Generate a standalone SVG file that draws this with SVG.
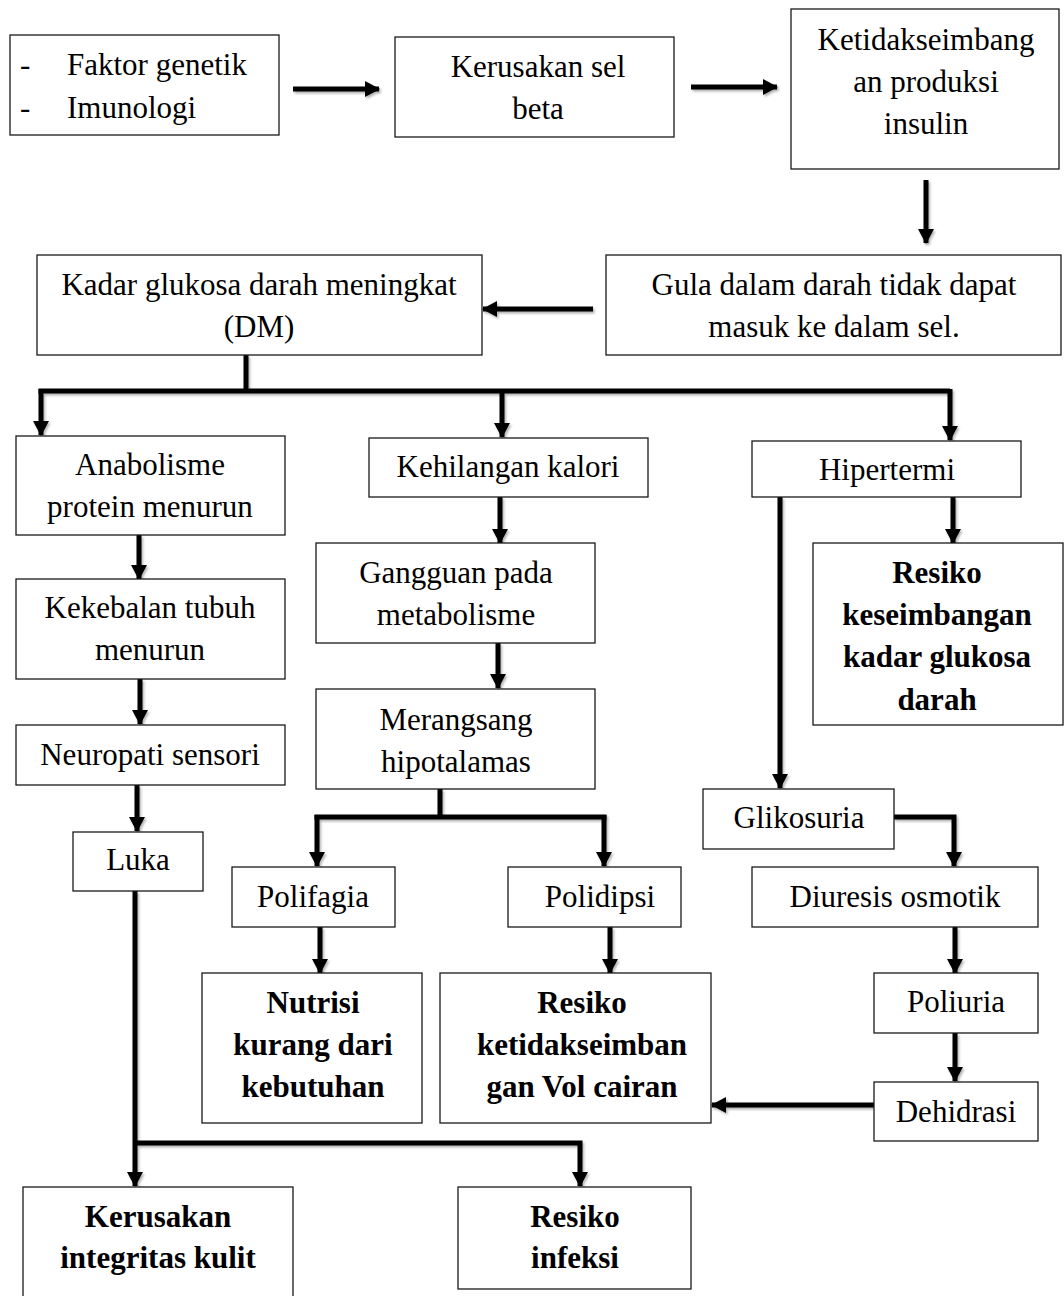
<svg xmlns="http://www.w3.org/2000/svg" width="1064" height="1296" viewBox="0 0 1064 1296">
<style>
.box{fill:#fff;stroke:#1a1a1a;stroke-width:1.3}
.t{font-family:"Liberation Serif","Times New Roman",serif;font-size:31px;fill:#000;text-anchor:middle}
.b{font-weight:bold}
.l{text-anchor:start}
.c{fill:none;stroke:#000;stroke-width:5}
.a{marker-end:url(#ah)}
</style>
<defs>
<marker id="ah" markerUnits="userSpaceOnUse" viewBox="0 0 15 16" refX="14" refY="8" markerWidth="15" markerHeight="16" orient="auto">
<path d="M0,0 L15,8 L0,16 Z" fill="#000"/>
</marker>
<filter id="sh" x="-10%" y="-10%" width="120%" height="120%">
<feDropShadow dx="1.5" dy="2" stdDeviation="1.2" flood-color="#000" flood-opacity="0.3"/>
</filter>
</defs>
<rect width="1064" height="1296" fill="#fff"/>

<g id="connectors" filter="url(#sh)">
<path class="c a" d="M293,89 H379"/>
<path class="c a" d="M691,87 H777"/>
<path class="c a" d="M926,180 V243"/>
<path class="c a" d="M593,309 H483"/>
<path class="c" d="M246,355 V391"/>
<path class="c" d="M38.5,391 H950"/>
<path class="c a" d="M41,389 V435"/>
<path class="c a" d="M502,391 V437"/>
<path class="c a" d="M950,389 V440"/>
<path class="c a" d="M139,535 V579"/>
<path class="c a" d="M140,679 V724"/>
<path class="c a" d="M137,785 V831"/>
<path class="c a" d="M500,497 V543"/>
<path class="c a" d="M498,643 V688"/>
<path class="c" d="M440,789 V817"/>
<path class="c" d="M314.5,817 H606.5"/>
<path class="c a" d="M317,815 V866"/>
<path class="c a" d="M604,815 V866"/>
<path class="c a" d="M320,927 V973"/>
<path class="c a" d="M610,927 V973"/>
<path class="c a" d="M953,497 V543"/>
<path class="c a" d="M780,497 V788"/>
<path class="c a" d="M894,817 H954 V866"/>
<path class="c a" d="M955,927 V973"/>
<path class="c a" d="M955,1033 V1081"/>
<path class="c a" d="M874,1105 H712"/>
<path class="c a" d="M135,891 V1186"/>
<path class="c a" d="M135,1143 H580 V1186"/>
</g>

<g id="n-faktor"><rect class="box" x="10" y="35" width="269" height="100"/>
<text class="t l" x="20" y="75">-</text><text class="t l" x="67" y="75">Faktor genetik</text>
<text class="t l" x="20" y="118">-</text><text class="t l" x="67" y="118">Imunologi</text></g>

<g id="n-kerusakan-sel"><rect class="box" x="395" y="37" width="279" height="100"/>
<text class="t" x="538" y="77">Kerusakan sel</text><text class="t" x="538" y="119">beta</text></g>

<g id="n-ketidakseimbangan"><rect class="box" x="791" y="9" width="268" height="160"/>
<text class="t" x="926" y="50">Ketidakseimbang</text><text class="t" x="926" y="92">an produksi</text><text class="t" x="926" y="134">insulin</text></g>

<g id="n-gula"><rect class="box" x="606" y="255" width="455" height="100"/>
<text class="t" x="834" y="295">Gula dalam darah tidak dapat</text><text class="t" x="834" y="337">masuk ke dalam sel.</text></g>

<g id="n-kadar"><rect class="box" x="37" y="255" width="445" height="100"/>
<text class="t" x="259" y="295">Kadar glukosa darah meningkat</text><text class="t" x="259" y="337">(DM)</text></g>

<g id="n-anabolisme"><rect class="box" x="16" y="436" width="269" height="99"/>
<text class="t" x="150" y="475">Anabolisme</text><text class="t" x="150" y="517">protein menurun</text></g>

<g id="n-kekebalan"><rect class="box" x="16" y="579" width="269" height="100"/>
<text class="t" x="150" y="618">Kekebalan tubuh</text><text class="t" x="150" y="660">menurun</text></g>

<g id="n-neuropati"><rect class="box" x="16" y="725" width="269" height="60"/>
<text class="t" x="150" y="765">Neuropati sensori</text></g>

<g id="n-luka"><rect class="box" x="73" y="832" width="130" height="59"/>
<text class="t" x="138" y="870">Luka</text></g>

<g id="n-kehilangan"><rect class="box" x="369" y="438" width="279" height="59"/>
<text class="t" x="508" y="477">Kehilangan kalori</text></g>

<g id="n-gangguan"><rect class="box" x="316" y="543" width="279" height="100"/>
<text class="t" x="456" y="583">Gangguan pada</text><text class="t" x="456" y="625">metabolisme</text></g>

<g id="n-merangsang"><rect class="box" x="316" y="689" width="279" height="100"/>
<text class="t" x="456" y="730">Merangsang</text><text class="t" x="456" y="772">hipotalamas</text></g>

<g id="n-polifagia"><rect class="box" x="232" y="867" width="163" height="60"/>
<text class="t" x="313" y="907">Polifagia</text></g>

<g id="n-polidipsi"><rect class="box" x="508" y="867" width="173" height="60"/>
<text class="t" x="600" y="907">Polidipsi</text></g>

<g id="n-nutrisi"><rect class="box" x="202" y="973" width="220" height="150"/>
<text class="t b" x="313" y="1013">Nutrisi</text><text class="t b" x="313" y="1055">kurang dari</text><text class="t b" x="313" y="1097">kebutuhan</text></g>

<g id="n-resiko-vol"><rect class="box" x="440" y="973" width="271" height="150"/>
<text class="t b" x="582" y="1013">Resiko</text><text class="t b" x="582" y="1055">ketidakseimban</text><text class="t b" x="582" y="1097">gan Vol cairan</text></g>

<g id="n-hipertermi"><rect class="box" x="752" y="441" width="269" height="56"/>
<text class="t" x="887" y="480">Hipertermi</text></g>

<g id="n-resiko-glukosa"><rect class="box" x="813" y="543" width="250" height="182"/>
<text class="t b" x="937" y="583">Resiko</text><text class="t b" x="937" y="625">keseimbangan</text><text class="t b" x="937" y="667">kadar glukosa</text><text class="t b" x="937" y="710">darah</text></g>

<g id="n-glikosuria"><rect class="box" x="703" y="789" width="191" height="60"/>
<text class="t" x="799" y="828">Glikosuria</text></g>

<g id="n-diuresis"><rect class="box" x="752" y="867" width="286" height="60"/>
<text class="t" x="895" y="907">Diuresis osmotik</text></g>

<g id="n-poliuria"><rect class="box" x="874" y="973" width="164" height="60"/>
<text class="t" x="956" y="1012">Poliuria</text></g>

<g id="n-dehidrasi"><rect class="box" x="874" y="1082" width="164" height="59"/>
<text class="t" x="956" y="1122">Dehidrasi</text></g>

<g id="n-kerusakan-integritas"><rect class="box" x="23" y="1187" width="270" height="120"/>
<text class="t b" x="158" y="1227">Kerusakan</text><text class="t b" x="158" y="1268">integritas kulit</text></g>

<g id="n-resiko-infeksi"><rect class="box" x="458" y="1187" width="233" height="102"/>
<text class="t b" x="575" y="1227">Resiko</text><text class="t b" x="575" y="1268">infeksi</text></g>
</svg>
